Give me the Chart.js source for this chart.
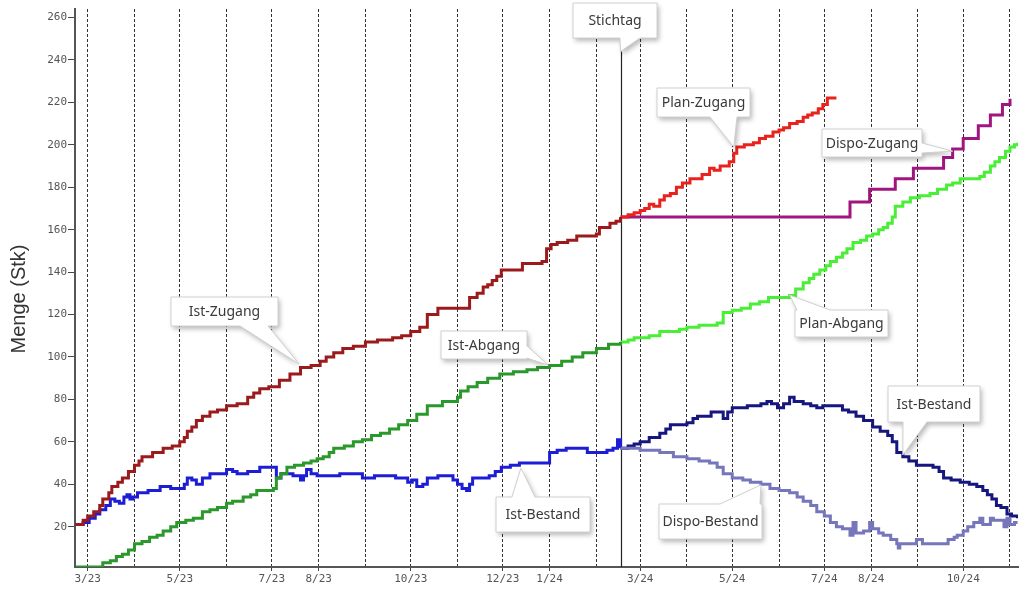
<!DOCTYPE html>
<html lang="de">
<head>
<meta charset="UTF-8">
<title>Bestandsverlauf Stichtag</title>
<script src="https://cdn.jsdelivr.net/npm/chart.js"></script>
<style>
  html, body { margin: 0; padding: 0; background: #fff; }
  #wrap { width: 1024px; height: 589px; }
</style>
</head>
<body>
<div id="wrap"><canvas id="chart" width="1024" height="589"></canvas></div>
<script>
// x = Tage seit 01.03.2023, y = Menge (Stk)
const istZugang = [[-8,21],[-3,23],[0,25],[4,27],[8,30],[10,33],[14,36],[16,39],[20,41],[23,43],[27,46],[31,49],[34,51],[36,53],[43,55],[50,57],[56,58],[61,60],[64,62],[66,65],[69,67],[72,70],[76,72],[81,74],[86,75],[92,77],[99,78],[106,81],[110,83],[114,85],[120,86],[127,89],[134,92],[141,95],[148,96],[154,98],[158,100],[163,102],[169,104],[176,105],[184,107],[192,108],[202,109],[208,110],[214,112],[220,114],[225,120],[232,123],[253,128],[258,130],[262,133],[265,134],[268,136],[271,138],[274,141],[288,144],[301,145],[304,151],[307,153],[311,154],[318,155],[324,157],[337,158],[339,161],[346,163],[350,164],[353,166]];
const planZugang = [[353,166],[358,167],[362,168],[366,169],[369,170],[372,172],[375,171],[379,174],[382,176],[386,177],[390,180],[394,182],[399,184],[403,184],[407,186],[412,189],[415,188],[419,190],[425,192],[428,196],[430,199],[435,200],[441,201],[445,203],[449,204],[454,206],[458,207],[461,208],[465,210],[470,211],[474,213],[477,214],[480,215],[484,217],[487,219],[490,222],[496,222]];
const dispoZugang = [[353,166],[505,173],[518,179],[535,184],[547,189],[567,194],[573,198],[580,203],[590,209],[598,214],[606,219],[611,221],[612,221]];
const istAbgang = [[-8,1],[4,1],[10,3],[15,4],[19,6],[23,7],[27,9],[31,12],[36,13],[41,15],[46,16],[50,18],[55,20],[59,22],[65,23],[70,24],[76,27],[81,28],[86,29],[92,31],[96,32],[103,34],[108,35],[112,37],[123,38],[125,43],[128,45],[132,48],[137,49],[143,50],[148,51],[152,52],[156,53],[160,55],[163,57],[170,58],[176,60],[182,61],[188,63],[194,64],[200,66],[206,68],[212,70],[218,73],[225,77],[235,79],[245,81],[247,84],[252,86],[258,88],[265,90],[273,92],[282,93],[291,94],[298,95],[306,96],[314,98],[321,100],[328,102],[337,104],[345,106],[353,107]];
const planAbgang = [[353,107],[358,108],[362,109],[366,109],[372,110],[379,112],[386,112],[392,113],[397,114],[405,115],[412,115],[417,116],[421,121],[427,122],[433,123],[439,125],[445,126],[451,128],[458,128],[465,129],[469,132],[474,135],[478,137],[481,139],[485,141],[489,143],[492,145],[496,147],[500,149],[503,151],[507,154],[512,155],[516,157],[520,158],[524,160],[527,161],[530,163],[533,166],[535,171],[540,173],[545,175],[551,176],[558,177],[563,179],[569,181],[573,182],[578,184],[584,184],[591,185],[594,187],[598,190],[601,192],[604,194],[608,197],[611,199],[614,200],[616,201]];
const istBestand = [[-8,21],[-3,22],[1,24],[5,26],[8,28],[12,30],[15,33],[18,32],[21,31],[24,34],[26,35],[28,33],[30,34],[33,36],[40,37],[48,39],[55,38],[61,38],[64,40],[66,43],[69,42],[72,40],[76,43],[81,45],[86,45],[92,47],[96,46],[99,45],[106,46],[114,48],[123,48],[125,43],[128,45],[132,45],[136,44],[141,42],[143,44],[145,47],[148,45],[152,44],[160,44],[167,45],[175,45],[182,43],[190,44],[196,44],[204,43],[212,41],[215,42],[218,39],[222,40],[225,43],[232,44],[238,44],[242,42],[245,40],[248,38],[251,37],[253,40],[255,43],[260,43],[266,44],[270,46],[274,48],[280,49],[286,50],[295,50],[302,50],[306,55],[311,56],[317,57],[328,57],[331,55],[335,55],[339,55],[344,56],[348,57],[351,61],[353,57]];
const istBestandPlan = [[353,57],[358,58],[362,59],[366,60],[372,62],[379,64],[383,66],[386,68],[392,68],[397,69],[401,71],[404,72],[410,72],[413,74],[417,74],[421,71],[424,74],[427,76],[433,76],[437,77],[441,77],[446,78],[450,79],[453,78],[457,76],[461,78],[465,81],[468,79],[471,79],[474,78],[479,77],[483,76],[487,77],[491,77],[496,77],[500,75],[504,74],[509,72],[514,70],[520,67],[525,65],[530,63],[533,60],[536,55],[540,53],[544,51],[549,49],[555,49],[560,48],[564,46],[567,43],[572,42],[578,41],[584,40],[589,39],[593,37],[596,35],[599,33],[602,30],[605,29],[609,26],[612,25],[616,24]];
const dispoBestand = [[353,57],[360,57],[366,56],[372,56],[379,55],[388,53],[397,52],[405,51],[412,50],[417,48],[421,45],[427,43],[434,42],[439,41],[446,40],[452,38],[458,37],[465,36],[470,34],[474,32],[479,30],[483,27],[488,25],[492,22],[496,20],[500,19],[505,16],[507,22],[509,17],[514,18],[518,22],[520,19],[524,17],[527,16],[532,14],[536,12],[537,10],[538,12],[543,12],[549,14],[553,12],[560,12],[567,12],[570,14],[574,15],[576,16],[580,18],[583,20],[587,22],[591,24],[593,21],[596,21],[598,24],[600,23],[604,23],[607,20],[609,24],[611,21],[614,22],[616,22]];

const stichtagDay = 353;
const yTicks = [20, 40, 60, 80, 100, 120, 140, 160, 180, 200, 220, 240, 260];
const xTickLabels = ['3/23','','5/23','','7/23','8/23','','10/23','','12/23','1/24','','3/24','','5/24','','7/24','8/24','','10/24',''];

// Monatsanfänge als Tage seit 01.03.2023
const DAY = 86400000;
const monthDays = xTickLabels.map((_, i) => (Date.UTC(2023, 2 + i, 1) - Date.UTC(2023, 2, 1)) / DAY);

const toXY = arr => arr.map(p => ({ x: p[0], y: p[1] }));
const line = (label, data, color) => ({
  label, data: toXY(data), borderColor: color, backgroundColor: color,
  borderWidth: 3, pointRadius: 0, stepped: true, fill: false
});

const callouts = [
  { text: 'Stichtag',      box: [573, 3, 84, 35],   side: 'bottom', base: [620, 640], at: [353, 244] },
  { text: 'Plan-Zugang',   box: [657, 88, 93, 29],  side: 'bottom', base: [710, 737], at: [428, 199] },
  { text: 'Dispo-Zugang',  box: [822, 129, 100, 28], side: 'right', base: [143, 153], at: [573, 197] },
  { text: 'Ist-Zugang',    box: [171, 297, 107, 29], side: 'bottom', base: [240, 268], at: [140, 96.7] },
  { text: 'Ist-Abgang',    box: [441, 331, 86, 28], side: 'right',  base: [346, 358], at: [305, 96.2] },
  { text: 'Ist-Bestand',   box: [496, 497, 94, 35], side: 'top',    base: [512, 535], at: [287, 47.7] },
  { text: 'Plan-Abgang',   box: [795, 310, 93, 27], side: 'top',    base: [797, 830], at: [465, 129.2] },
  { text: 'Ist-Bestand',   box: [888, 386, 92, 36], side: 'bottom', base: [903, 927], at: [540, 53.8] },
  { text: 'Dispo-Bestand', box: [659, 504, 103, 35], side: 'top',   base: [720, 760], at: [446, 39.7] }
];

function calloutPath(ctx, c, tx, ty) {
  const [x, y, w, h] = c.box;
  const [b1, b2] = c.base;
  ctx.beginPath();
  ctx.moveTo(x, y);
  if (c.side === 'top') { ctx.lineTo(b1, y); ctx.lineTo(tx, ty); ctx.lineTo(b2, y); }
  ctx.lineTo(x + w, y);
  if (c.side === 'right') { ctx.lineTo(x + w, b1); ctx.lineTo(tx, ty); ctx.lineTo(x + w, b2); }
  ctx.lineTo(x + w, y + h);
  if (c.side === 'bottom') { ctx.lineTo(b2, y + h); ctx.lineTo(tx, ty); ctx.lineTo(b1, y + h); }
  ctx.lineTo(x, y + h);
  ctx.closePath();
}

const overlay = {
  id: 'overlay',
  beforeDatasetsDraw(chart) {
    const { ctx, chartArea, scales: { x, y } } = chart;
    const sx = Math.round(x.getPixelForValue(stichtagDay)) + 0.5;
    ctx.save();
    ctx.strokeStyle = '#222';
    ctx.lineWidth = 1.2;
    ctx.beginPath();
    ctx.moveTo(sx, y.getPixelForValue(244));
    ctx.lineTo(sx, chartArea.bottom);
    ctx.stroke();
    ctx.restore();
  },
  afterDatasetsDraw(chart) {
    const { ctx, scales: { x, y } } = chart;
    callouts.forEach(c => {
      const tx = x.getPixelForValue(c.at[0]);
      const ty = y.getPixelForValue(c.at[1]);
      ctx.save();
      calloutPath(ctx, c, tx, ty);
      ctx.shadowColor = 'rgba(0,0,0,0.28)';
      ctx.shadowBlur = 5;
      ctx.shadowOffsetX = 2;
      ctx.shadowOffsetY = 3;
      ctx.fillStyle = '#fff';
      ctx.fill();
      ctx.shadowColor = 'transparent';
      ctx.strokeStyle = '#d0d0d0';
      ctx.lineWidth = 1;
      ctx.stroke();
      ctx.fillStyle = '#3a3a3a';
      ctx.font = '14px "Noto Sans", "Open Sans", sans-serif';
      ctx.textAlign = 'center';
      ctx.textBaseline = 'middle';
      ctx.fillText(c.text, c.box[0] + c.box[2] / 2, c.box[1] + c.box[3] / 2 + 1);
      ctx.restore();
    });
  },
  afterDraw(chart) {
    const { ctx } = chart;
    ctx.save();
    ctx.translate(19, 299);
    ctx.rotate(-Math.PI / 2);
    ctx.fillStyle = '#333';
    ctx.font = '20px "Liberation Sans", Arial, sans-serif';
    ctx.textAlign = 'center';
    ctx.textBaseline = 'middle';
    ctx.fillText('Menge (Stk)', 0, 0);
    ctx.restore();
  }
};

const tickFont = { family: '"DejaVu Sans Mono", monospace', size: 11 };

new Chart(document.getElementById('chart'), {
  type: 'line',
  data: {
    datasets: [
      line('Ist-Zugang', istZugang, '#9b1b1d'),
      line('Plan-Zugang', planZugang, '#e8231e'),
      line('Dispo-Zugang', dispoZugang, '#a0167e'),
      line('Ist-Abgang', istAbgang, '#2b982b'),
      line('Plan-Abgang', planAbgang, '#4aee36'),
      line('Dispo-Bestand', dispoBestand, '#7676bb'),
      line('Ist-Bestand Plan', istBestandPlan, '#16167f'),
      line('Ist-Bestand', istBestand, '#1d1dd6')
    ]
  },
  options: {
    responsive: false,
    animation: false,
    layout: { padding: { top: 9, right: 6, left: 0, bottom: 0 } },
    plugins: { legend: { display: false }, tooltip: { enabled: false } },
    scales: {
      x: {
        type: 'linear',
        min: -8.4,
        max: 616.3,
        afterBuildTicks: s => { s.ticks = monthDays.map(v => ({ value: v })); },
        afterFit: s => { s.height = 22; },
        ticks: {
          autoSkip: false,
          maxRotation: 0,
          padding: 2,
          color: '#555',
          font: tickFont,
          callback: (v, i) => xTickLabels[i]
        },
        grid: {
          color: '#333',
          lineWidth: 1,
          tickLength: 4,
          tickColor: c => (xTickLabels[c.index] ? '#444' : 'rgba(0,0,0,0)')
        },
        border: { color: '#555', width: 2, dash: [3, 2] }
      },
      y: {
        type: 'linear',
        min: 1,
        max: 264,
        afterBuildTicks: s => { s.ticks = yTicks.map(v => ({ value: v })); },
        afterFit: s => { s.width = 75; },
        ticks: { color: '#555', font: tickFont, padding: 1 },
        grid: { drawOnChartArea: false, tickLength: 7, tickColor: '#444' },
        border: { color: '#555', width: 2 }
      }
    }
  },
  plugins: [overlay]
});
</script>
</body>
</html>
